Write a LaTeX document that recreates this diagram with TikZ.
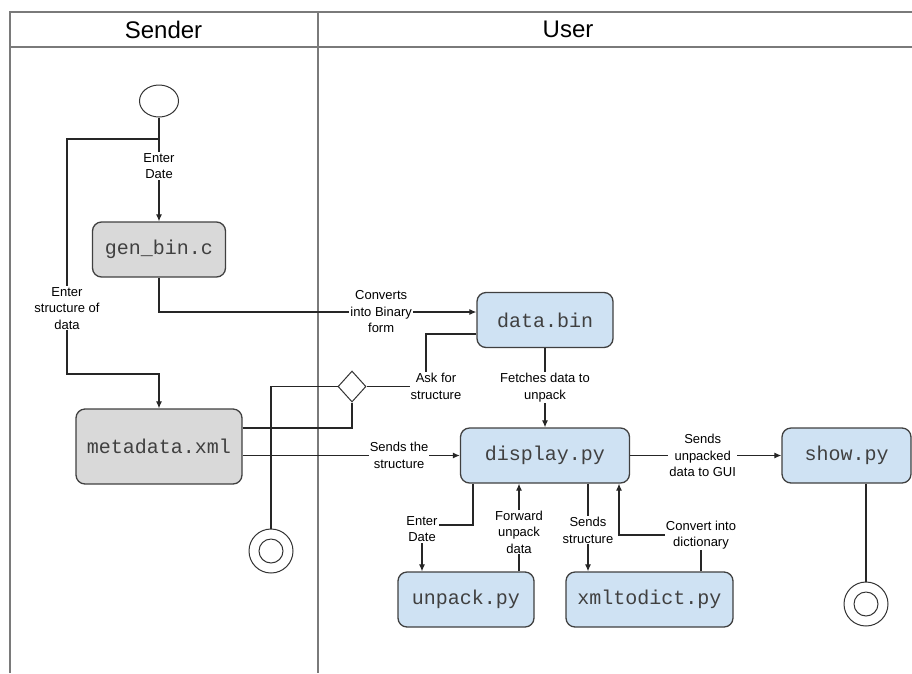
\documentclass[tikz,border=0pt]{standalone}
\usepackage{fontspec}
\setmainfont{Liberation Sans}
\setmonofont{Liberation Mono}
\usepackage{tikz}
\usetikzlibrary{positioning, arrows.meta, shapes.geometric}

\definecolor{boxgray}{HTML}{D9D9D9}
\definecolor{boxblue}{HTML}{CFE2F3}
\definecolor{lanegray}{HTML}{7A7A7A}

\newcommand{\lblsize}{\fontsize{13}{16.5}\selectfont}
\newcommand{\codesize}{\fontsize{20}{24}\selectfont\ttfamily}
\newcommand{\headsize}{\fontsize{24}{28}\selectfont}

\begin{document}
\begin{tikzpicture}[x=1pt, y=-1pt,
    prog/.style={draw=black!75, line width=1.3pt, rounded corners=9pt, inner sep=0pt,
                 minimum height=55pt, font=\codesize, text=black!75},
    sendprog/.style={prog, fill=boxgray},
    userprog/.style={prog, fill=boxblue},
    lbl/.style={fill=white, inner sep=1pt, align=center, font=\lblsize},
    flow/.style={draw=black!85, line width=1.1pt},
    arr/.style={flow, -{Latex[length=7pt, width=6pt]}},
    lane/.style={draw=lanegray, line width=1.6pt},
    finish/.style={circle, draw=black!80, line width=1pt, minimum size=44pt, inner sep=0pt,
                   path picture={\draw[black!80, line width=1pt] (path picture bounding box.center) circle (12pt);}},
]
    \useasboundingbox (0,0) rectangle (912,673);

    % Swimlanes
    \draw[lane] (10,673) -- (10,12) -- (912,12);
    \draw[lane] (10,47) -- (912,47);
    \draw[lane] (318,12) -- (318,673);
    \node[font=\headsize] (sender) at (163.5,29.5) {Sender};
    \node[font=\headsize] (user) at (568,29.5) {User};

    % Define nodes
    \node[ellipse, draw=black!80, line width=1pt, minimum width=39pt, minimum height=32pt] (start) at (159,101) {};
    \node[sendprog, minimum width=133pt] (gen) at (159,249.5) {gen\_bin.c};
    \node[sendprog, minimum width=166pt, minimum height=75pt] (meta) at (159,446.5) {metadata.xml};
    \node[diamond, draw=black!80, line width=1pt, fill=white, inner sep=0pt,
          minimum width=28pt, minimum height=31pt] (dec) at (352,386.5) {};
    \node[finish] (end1) at (271,551) {};
    \node[userprog, minimum width=136pt] (dbin) at (545,320) {data.bin};
    \node[userprog, minimum width=169pt] (disp) at (545,455.5) {display.py};
    \node[userprog, minimum width=129pt] (show) at (846.5,455.5) {show.py};
    \node[userprog, minimum width=136pt] (unpack) at (466,599.5) {unpack.py};
    \node[userprog, minimum width=167pt] (xml) at (649.5,599.5) {xmltodict.py};
    \node[finish] (end2) at (866,604) {};

    % Sender side
    \coordinate (fork) at (159,139);
    \draw[flow] (start) -- (fork);
    \draw[arr] (fork) -- node[lbl, pos=0.33] {Enter\\Date} (gen);
    \draw[arr] (fork) -| node[lbl, pos=0.86] {Enter\\structure of\\data} (67,374) -| (meta);
    \draw[arr] (gen) |- node[lbl, pos=0.85] {Converts\\into Binary\\form} ([yshift=8pt]dbin.west);
    \draw[flow] ([yshift=-14pt]dbin.west) -| (426,386.5) node[lbl, xshift=10pt] {Ask for\\structure} -- (dec);
    \draw[flow] ([yshift=18.5pt]meta.east) -| (dec);
    \draw[flow] (dec) -| (end1);
    \draw[arr] (meta.east |- disp.west) -- node[lbl, pos=0.72] {Sends the\\structure} (disp.west);

    % User side
    \draw[arr] (dbin) -- node[lbl] {Fetches data to\\unpack} (disp);
    \draw[arr] (disp) -- node[lbl, pos=0.48] {Sends\\unpacked\\data to GUI} (show);
    \draw[flow] ([xshift=19.5pt]show.south) -- (end2);
    \draw[arr] ([xshift=-72pt]disp.south) |- (422,525) node[lbl, yshift=-4pt] {Enter\\Date} -- ([xshift=-44pt]unpack.north);
    \draw[arr] ([xshift=53pt]unpack.north) -- node[lbl, pos=0.45] {Forward\\unpack\\data} ([xshift=-26pt]disp.south);
    \draw[arr] ([xshift=43pt]disp.south) -- node[lbl, pos=0.53] {Sends\\structure} ([xshift=-61.5pt]xml.north);
    \draw[arr] ([xshift=51.5pt]xml.north) -- (701,535) node[lbl] {Convert into\\dictionary} -| ([xshift=74pt]disp.south);
\end{tikzpicture}
\end{document}
